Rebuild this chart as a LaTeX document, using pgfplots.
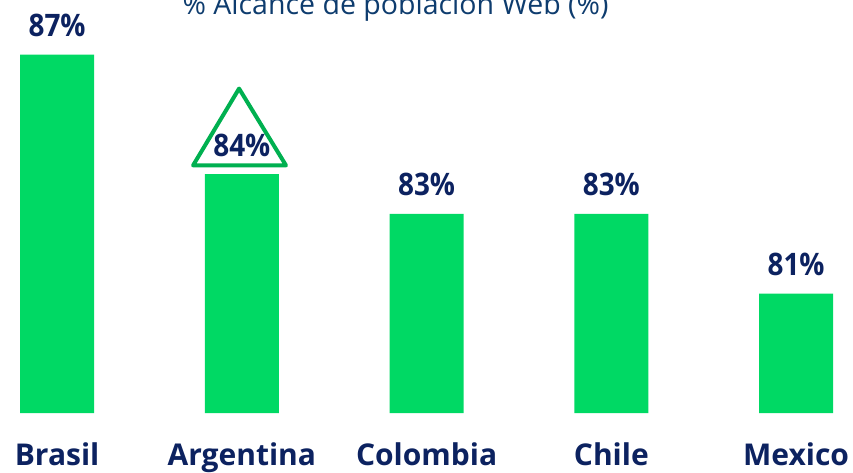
\documentclass[border=0pt]{standalone}
\usepackage{pgfplots}
\pgfplotsset{compat=1.18}
\usepackage{fontspec}
\setmainfont{Open Sans}
\definecolor{bargreen}{RGB}{0,217,100}
\definecolor{trigreen}{RGB}{0,176,80}
\definecolor{navy}{RGB}{12,34,96}
\definecolor{titleblue}{RGB}{14,60,110}
\newcommand{\lab}[1]{\scalebox{0.9}[1]{#1}}
\begin{document}
\begin{tikzpicture}
\begin{axis}[
  scale only axis,
  width=853pt, height=413pt,
  xmin=-0.309, xmax=4.308,
  ymin=78, ymax=88.375,
  axis line style={draw=none},
  major tick length=0pt,
  ytick=\empty,
  xtick={0,1,2,3,4},
  xticklabels={Brasil,Argentina,Colombia,Chile,Mexico},
  xticklabel style={anchor=base, yshift=-52pt, inner sep=0pt, text=navy,
     font=\fontsize{30}{30}\selectfont\bfseries},
  clip=false,
]
\addplot[ybar, bar width=74pt, fill=bargreen, draw=none,
  nodes near coords={\lab{\pgfmathprintnumber[assume math mode=true]{\pgfplotspointmeta}\%}},
  every node near coord/.append style={anchor=base, yshift=18pt, inner sep=0pt,
     text=navy, font=\fontsize{31}{31}\selectfont\bfseries},
] coordinates {(0,87) (1,84) (2,83) (3,83) (4,81)};
\draw[trigreen, line width=4pt, line join=round]
  (axis cs:0.985,86.15) -- (axis cs:0.736,84.22) -- (axis cs:1.239,84.22) -- cycle;
\node[anchor=base, inner sep=0pt, text=titleblue, font=\fontsize{28.5}{28.5}\selectfont]
  at (axis cs:1.832,88.02) {\% Alcance de población Web (\%)};
\end{axis}
\pgfresetboundingbox
\useasboundingbox (0,-59pt) rectangle (853pt,413pt);
\end{tikzpicture}
\end{document}
